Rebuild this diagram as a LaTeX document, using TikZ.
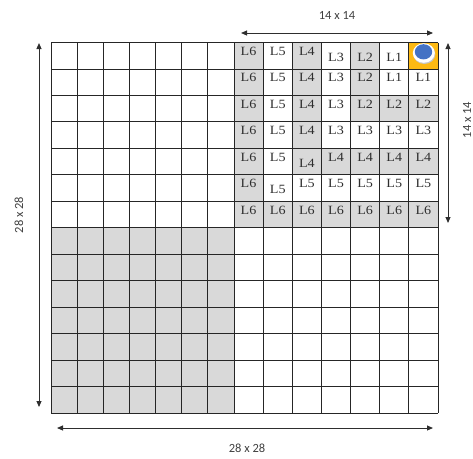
\documentclass[tikz,border=0pt]{standalone}
\usepackage{fontspec}
\setmainfont{Liberation Serif}
\newfontfamily\lfont[FakeStretch=1.12]{Liberation Serif}
\newfontfamily\dimfont{Carlito}
\usetikzlibrary{arrows.meta}
\definecolor{cellgray}{HTML}{D9D9D9}
\definecolor{gridc}{HTML}{262626}
\definecolor{goldc}{HTML}{FDB913}
\definecolor{bluec}{HTML}{4472C4}
\definecolor{textc}{HTML}{2E2E2E}
\definecolor{dimc}{HTML}{404040}
\tikzset{
  lbl/.style={font=\lfont\fontsize{12.6}{14}\selectfont, text=textc, inner sep=0pt, anchor=base},
  dimlbl/.style={font=\dimfont\fontsize{12.5}{14}\selectfont, text=dimc, inner sep=0pt},
  dimarrow/.style={draw=textc, line width=1pt, {Triangle[length=6pt,width=5pt]}-{Triangle[length=6pt,width=5pt]}},
  gridline/.style={draw=gridc, line width=0.9pt}
}
\begin{document}
\begin{tikzpicture}[x=1pt,y=-1pt]
\useasboundingbox (0,0) rectangle (473,458);
% bottom-left grey quadrant
\fill[cellgray] (51,227.75) rectangle (234,413);
% top-right quadrant
\foreach \r in {1,...,7}{
  \foreach \c in {1,...,7}{
    \pgfmathtruncatemacro\n{max(7-\c,\r-1)}
    \pgfmathsetmacro\xl{234+(\c-1)*29.143}
    \pgfmathsetmacro\yt{42.5+(\r-1)*26.464}
    \pgfmathtruncatemacro\low{((\r==1)&&(\c>=4)&&(\c<=6))||((\r==5)&&(\c==3))||((\r==6)&&(\c==2))}
    \ifnum\n>0
      \pgfmathtruncatemacro\ev{mod(\n,2)==0}
      \ifnum\ev=1 \fill[cellgray] (\xl,\yt) rectangle ++(29.143,26.464); \fi
      \ifnum\low=1
        \node[lbl] (t-\r-\c) at (\xl+14.57,\yt+19) {L\n};
      \else
        \node[lbl] (t-\r-\c) at (\xl+14.57,\yt+13) {L\n};
      \fi
    \else
      \fill[goldc] (\xl,\yt) rectangle ++(29.143,26.464);
    \fi
  }
}
% grid
\foreach \i in {0,...,7}{
  \pgfmathsetmacro\xx{51+\i*26.143}
  \draw[gridline] (\xx,42.5) -- (\xx,413);
}
\foreach \i in {1,...,7}{
  \pgfmathsetmacro\xx{234+\i*29.143}
  \draw[gridline] (\xx,42.5) -- (\xx,413);
}
\foreach \j in {0,...,14}{
  \pgfmathsetmacro\yy{42.5+\j*26.464}
  \draw[gridline] (51,\yy) -- (438,\yy);
}
% blue marker
\fill[gray!45] (424.3,54.2) ellipse [x radius=11, y radius=9.8];
\fill[white] (423.8,53) ellipse [x radius=11, y radius=9.8];
\fill[bluec] (423.5,51.8) ellipse [x radius=8.7, y radius=7.6];
% dimension arrows
\coordinate (tA) at (241,33);
\coordinate (tB) at (433,33);
\draw[dimarrow] (tA) -- (tB);
\node[dimlbl] (tl) at (337,15) {14 x 14};
\coordinate (rA) at (448,43);
\coordinate (rB) at (448,223);
\draw[dimarrow] (rA) -- (rB);
\node[dimlbl, rotate=90] (rl) at (467,120) {14 x 14};
\coordinate (lA) at (39,43);
\coordinate (lB) at (39,407);
\draw[dimarrow] (lA) -- (lB);
\node[dimlbl, rotate=90] (ll) at (19,215) {28 x 28};
\coordinate (bA) at (57,428);
\coordinate (bB) at (433,428);
\draw[dimarrow] (bA) -- (bB);
\node[dimlbl] (bl) at (247,448) {28 x 28};
\end{tikzpicture}
\end{document}
